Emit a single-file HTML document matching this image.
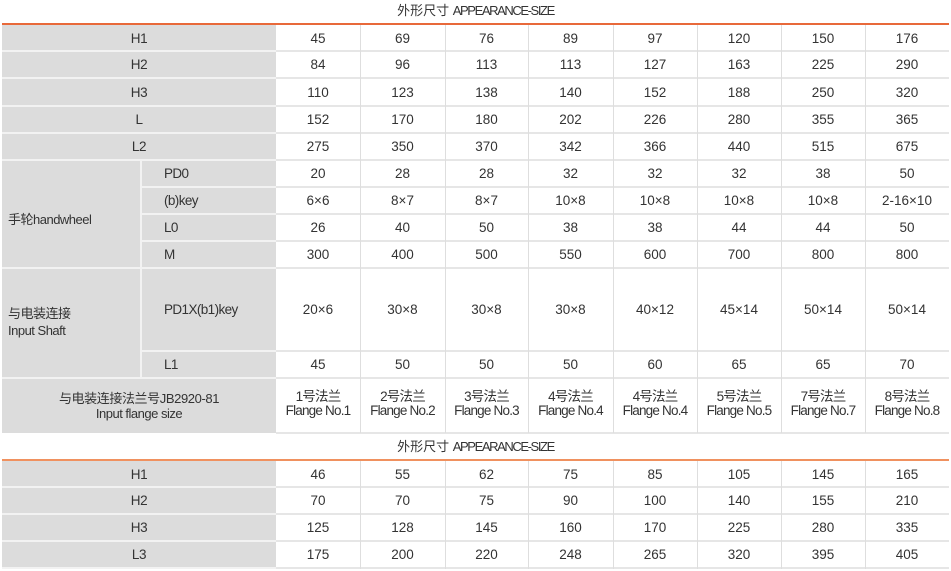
<!DOCTYPE html>
<html>
<head>
<meta charset="utf-8">
<style>
*{margin:0;padding:0;box-sizing:border-box}
html,body{width:951px;height:571px;background:#fff;overflow:hidden}
body{position:relative;font-family:"Liberation Sans","Noto Sans CJK SC",sans-serif;color:#333}
.abs{position:absolute}
.title{position:absolute;left:0;width:951px;text-align:center;font-size:13px;line-height:16px;color:#333}
.title .l{letter-spacing:-1.4px}
.bar{position:absolute;left:2px;width:947px;height:2px}
.row{position:absolute;left:2px;width:947px;display:flex}
.row>div{display:flex;align-items:center;justify-content:center;font-size:13.5px;white-space:nowrap}
.lab{width:274px;background:#dcdcdc;letter-spacing:-0.4px}
.sub{margin-left:139px;width:135px;background:#dcdcdc;justify-content:flex-start!important;padding-left:23px;letter-spacing:-0.6px}
.row>div.c{width:84px}
.row>div.c2{width:85px}
.row>div.c3{width:83px}
.grp{position:absolute;left:2px;width:139px;background:#dcdcdc;font-size:13px;padding-left:6px;display:flex;flex-direction:column;justify-content:center;letter-spacing:-0.5px;white-space:nowrap}
.hl{position:absolute;height:2px}
.hd{background:#e6e6e6}
.hg{background:#f2f2f2}
.vl{position:absolute;width:1px;background:#dedede}
.fl{flex-direction:column;line-height:13.5px;letter-spacing:-0.8px;padding-bottom:4px}
.fll{flex-direction:column;line-height:15px;font-size:13px!important}
.fll .e{letter-spacing:-0.5px}
</style>
</head>
<body>

<div class="title" style="top:3px">外形尺寸 <span class="l">APPEARANCE-SIZE</span></div>
<div class="bar" style="top:23px;background:#e8693a"></div>

<!-- Table 1 rows -->
<div class="row" style="top:25px;height:26px"><div class="lab">H1</div><div class="c">45</div><div class="c2">69</div><div class="c3">76</div><div class="c2">89</div><div class="c">97</div><div class="c">120</div><div class="c">150</div><div class="c">176</div></div>
<div class="row" style="top:51px;height:27px"><div class="lab">H2</div><div class="c">84</div><div class="c2">96</div><div class="c3">113</div><div class="c2">113</div><div class="c">127</div><div class="c">163</div><div class="c">225</div><div class="c">290</div></div>
<div class="row" style="top:78px;height:28px"><div class="lab">H3</div><div class="c">110</div><div class="c2">123</div><div class="c3">138</div><div class="c2">140</div><div class="c">152</div><div class="c">188</div><div class="c">250</div><div class="c">320</div></div>
<div class="row" style="top:106px;height:27px"><div class="lab">L</div><div class="c">152</div><div class="c2">170</div><div class="c3">180</div><div class="c2">202</div><div class="c">226</div><div class="c">280</div><div class="c">355</div><div class="c">365</div></div>
<div class="row" style="top:133px;height:27px"><div class="lab">L2</div><div class="c">275</div><div class="c2">350</div><div class="c3">370</div><div class="c2">342</div><div class="c">366</div><div class="c">440</div><div class="c">515</div><div class="c">675</div></div>

<div class="grp" style="top:160px;height:108px;padding-top:8px">手轮handwheel</div>
<div class="row" style="top:160px;height:27px"><div class="sub">PD0</div><div class="c">20</div><div class="c2">28</div><div class="c3">28</div><div class="c2">32</div><div class="c">32</div><div class="c">32</div><div class="c">38</div><div class="c">50</div></div>
<div class="row" style="top:187px;height:27px"><div class="sub">(b)key</div><div class="c">6×6</div><div class="c2">8×7</div><div class="c3">8×7</div><div class="c2">10×8</div><div class="c">10×8</div><div class="c">10×8</div><div class="c">10×8</div><div class="c">2-16×10</div></div>
<div class="row" style="top:214px;height:27px"><div class="sub">L0</div><div class="c">26</div><div class="c2">40</div><div class="c3">50</div><div class="c2">38</div><div class="c">38</div><div class="c">44</div><div class="c">44</div><div class="c">50</div></div>
<div class="row" style="top:241px;height:27px"><div class="sub">M</div><div class="c">300</div><div class="c2">400</div><div class="c3">500</div><div class="c2">550</div><div class="c">600</div><div class="c">700</div><div class="c">800</div><div class="c">800</div></div>

<div class="grp" style="top:268px;height:110px;line-height:17px;padding-bottom:3px"><span>与电装连接</span><span>Input Shaft</span></div>
<div class="row" style="top:268px;height:83px"><div class="sub">PD1X(b1)key</div><div class="c">20×6</div><div class="c2">30×8</div><div class="c3">30×8</div><div class="c2">30×8</div><div class="c">40×12</div><div class="c">45×14</div><div class="c">50×14</div><div class="c">50×14</div></div>
<div class="row" style="top:351px;height:27px"><div class="sub">L1</div><div class="c">45</div><div class="c2">50</div><div class="c3">50</div><div class="c2">50</div><div class="c">60</div><div class="c">65</div><div class="c">65</div><div class="c">70</div></div>

<div class="row" style="top:378px;height:55px">
<div class="lab fll"><span>与电装连接法兰号JB2920-81</span><span class="e">Input flange size</span></div>
<div class="c fl"><span>1号法兰</span><span>Flange No.1</span></div>
<div class="c2 fl"><span>2号法兰</span><span>Flange No.2</span></div>
<div class="c3 fl"><span>3号法兰</span><span>Flange No.3</span></div>
<div class="c2 fl"><span>4号法兰</span><span>Flange No.4</span></div>
<div class="c fl"><span>4号法兰</span><span>Flange No.4</span></div>
<div class="c fl"><span>5号法兰</span><span>Flange No.5</span></div>
<div class="c fl"><span>7号法兰</span><span>Flange No.7</span></div>
<div class="c fl"><span>8号法兰</span><span>Flange No.8</span></div>
</div>

<!-- Table 1 lines -->
<div class="hl hd" style="left:276px;width:673px;top:50px"></div>
<div class="hl hd" style="left:276px;width:673px;top:77px"></div>
<div class="hl hd" style="left:276px;width:673px;top:105px"></div>
<div class="hl hd" style="left:276px;width:673px;top:132px"></div>
<div class="hl hd" style="left:276px;width:673px;top:159px"></div>
<div class="hl hd" style="left:276px;width:673px;top:186px"></div>
<div class="hl hd" style="left:276px;width:673px;top:213px"></div>
<div class="hl hd" style="left:276px;width:673px;top:240px"></div>
<div class="hl hd" style="left:276px;width:673px;top:267px"></div>
<div class="hl hd" style="left:276px;width:673px;top:350px"></div>
<div class="hl hd" style="left:276px;width:673px;top:377px"></div>
<div class="hl hd" style="left:276px;width:673px;top:432px"></div>

<div class="hl hg" style="left:2px;width:274px;top:50px"></div>
<div class="hl hg" style="left:2px;width:274px;top:77px"></div>
<div class="hl hg" style="left:2px;width:274px;top:105px"></div>
<div class="hl hg" style="left:2px;width:274px;top:132px"></div>
<div class="hl hg" style="left:2px;width:274px;top:159px"></div>
<div class="hl hg" style="left:141px;width:135px;top:186px"></div>
<div class="hl hg" style="left:141px;width:135px;top:213px"></div>
<div class="hl hg" style="left:141px;width:135px;top:240px"></div>
<div class="hl hg" style="left:2px;width:274px;top:267px"></div>
<div class="hl hg" style="left:141px;width:135px;top:350px"></div>
<div class="hl hg" style="left:2px;width:274px;top:377px"></div>
<div class="abs" style="left:140px;top:160px;width:2px;height:218px;background:#f2f2f2"></div>

<div class="vl" style="left:360px;top:25px;height:408px"></div>
<div class="vl" style="left:445px;top:25px;height:408px"></div>
<div class="vl" style="left:528px;top:25px;height:408px"></div>
<div class="vl" style="left:613px;top:25px;height:408px"></div>
<div class="vl" style="left:697px;top:25px;height:408px"></div>
<div class="vl" style="left:781px;top:25px;height:408px"></div>
<div class="vl" style="left:865px;top:25px;height:408px"></div>

<!-- Table 2 -->
<div class="title" style="top:439px">外形尺寸 <span class="l">APPEARANCE-SIZE</span></div>
<div class="bar" style="top:459px;background:#f0915f"></div>

<div class="row" style="top:461px;height:26px"><div class="lab">H1</div><div class="c">46</div><div class="c2">55</div><div class="c3">62</div><div class="c2">75</div><div class="c">85</div><div class="c">105</div><div class="c">145</div><div class="c">165</div></div>
<div class="row" style="top:487px;height:27px"><div class="lab">H2</div><div class="c">70</div><div class="c2">70</div><div class="c3">75</div><div class="c2">90</div><div class="c">100</div><div class="c">140</div><div class="c">155</div><div class="c">210</div></div>
<div class="row" style="top:514px;height:27px"><div class="lab">H3</div><div class="c">125</div><div class="c2">128</div><div class="c3">145</div><div class="c2">160</div><div class="c">170</div><div class="c">225</div><div class="c">280</div><div class="c">335</div></div>
<div class="row" style="top:541px;height:27px"><div class="lab">L3</div><div class="c">175</div><div class="c2">200</div><div class="c3">220</div><div class="c2">248</div><div class="c">265</div><div class="c">320</div><div class="c">395</div><div class="c">405</div></div>

<div class="hl hd" style="left:276px;width:673px;top:486px"></div>
<div class="hl hd" style="left:276px;width:673px;top:513px"></div>
<div class="hl hd" style="left:276px;width:673px;top:540px"></div>
<div class="hl hd" style="left:276px;width:673px;top:567px"></div>
<div class="hl hg" style="left:2px;width:274px;top:486px"></div>
<div class="hl hg" style="left:2px;width:274px;top:513px"></div>
<div class="hl hg" style="left:2px;width:274px;top:540px"></div>
<div class="hl hg" style="left:2px;width:274px;top:567px"></div>

<div class="vl" style="left:360px;top:461px;height:108px"></div>
<div class="vl" style="left:445px;top:461px;height:108px"></div>
<div class="vl" style="left:528px;top:461px;height:108px"></div>
<div class="vl" style="left:613px;top:461px;height:108px"></div>
<div class="vl" style="left:697px;top:461px;height:108px"></div>
<div class="vl" style="left:781px;top:461px;height:108px"></div>
<div class="vl" style="left:865px;top:461px;height:108px"></div>

</body>
</html>
